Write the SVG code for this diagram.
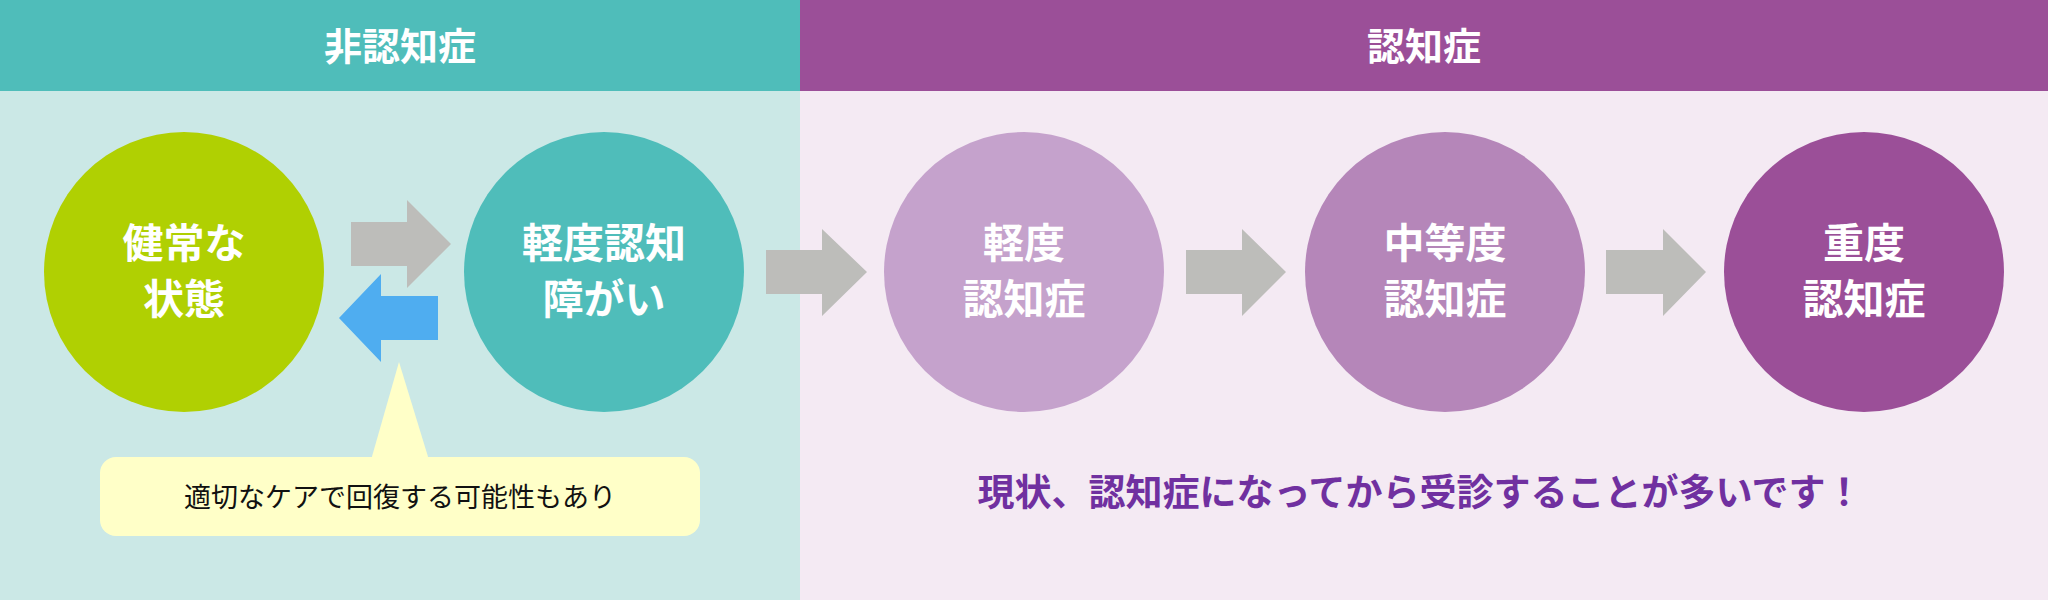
<svg xmlns="http://www.w3.org/2000/svg" width="2048" height="600" viewBox="0 0 2048 600">
<style>
text{font-family:"Noto Sans CJK JP","Noto Sans",sans-serif;text-anchor:middle}
.h{fill:#fff;font-size:38px;font-weight:bold}
.c{fill:#fff;font-size:41px;font-weight:bold}
.g{fill:#bdbdba}
</style>
<rect x="0" y="0" width="800" height="600" fill="#cbe8e6"/>
<rect x="800" y="0" width="1248" height="600" fill="#f4eaf3"/>
<rect x="0" y="0" width="800" height="91" fill="#4fbdba"/>
<rect x="800" y="0" width="1248" height="91" fill="#9b4f98"/>
<text class="h" x="400" y="60">非認知症</text>
<text class="h" x="1424" y="60">認知症</text>
<g id="connectors">
<polygon class="g" points="351,222 407,222 407,200 451,244 407,288 407,266 351,266"/>
<polygon fill="#4fadf0" points="438,296 381,296 381,274 339,318 381,362 381,340 438,340"/>
<polygon class="g" points="766,250 822,250 822,229 867,272 822,316 822,294 766,294"/>
<polygon class="g" points="1186,250 1242,250 1242,229 1286,272 1242,316 1242,294 1186,294"/>
<polygon class="g" points="1606,250 1663,250 1663,229 1706,272 1663,316 1663,294 1606,294"/>
</g>
<g id="n1"><circle cx="184" cy="272" r="140" fill="#b0d002"/><text class="c" x="184" y="258">健常な</text><text class="c" x="184" y="314">状態</text></g>
<g id="n2"><circle cx="604" cy="272" r="140" fill="#4fbdba"/><text class="c" x="604" y="258">軽度認知</text><text class="c" x="604" y="314">障がい</text></g>
<g id="n3"><circle cx="1024" cy="272" r="140" fill="#c5a2cc"/><text class="c" x="1024" y="258">軽度</text><text class="c" x="1024" y="314">認知症</text></g>
<g id="n4"><circle cx="1445" cy="272" r="140" fill="#b586b9"/><text class="c" x="1445" y="258">中等度</text><text class="c" x="1445" y="314">認知症</text></g>
<g id="n5"><circle cx="1864" cy="272" r="140" fill="#9b4f98"/><text class="c" x="1864" y="258">重度</text><text class="c" x="1864" y="314">認知症</text></g>
<g id="callout">
<polygon points="399,362 371,460 429,460" fill="#ffffc8"/>
<rect x="100" y="457" width="600" height="79" rx="16" fill="#ffffc8"/>
<text x="400" y="507" font-size="27" fill="#111">適切なケアで回復する可能性もあり</text>
</g>
<text x="1420" y="506" font-size="37" font-weight="bold" fill="#7030a0">現状、認知症になってから受診することが多いです！</text>
</svg>
